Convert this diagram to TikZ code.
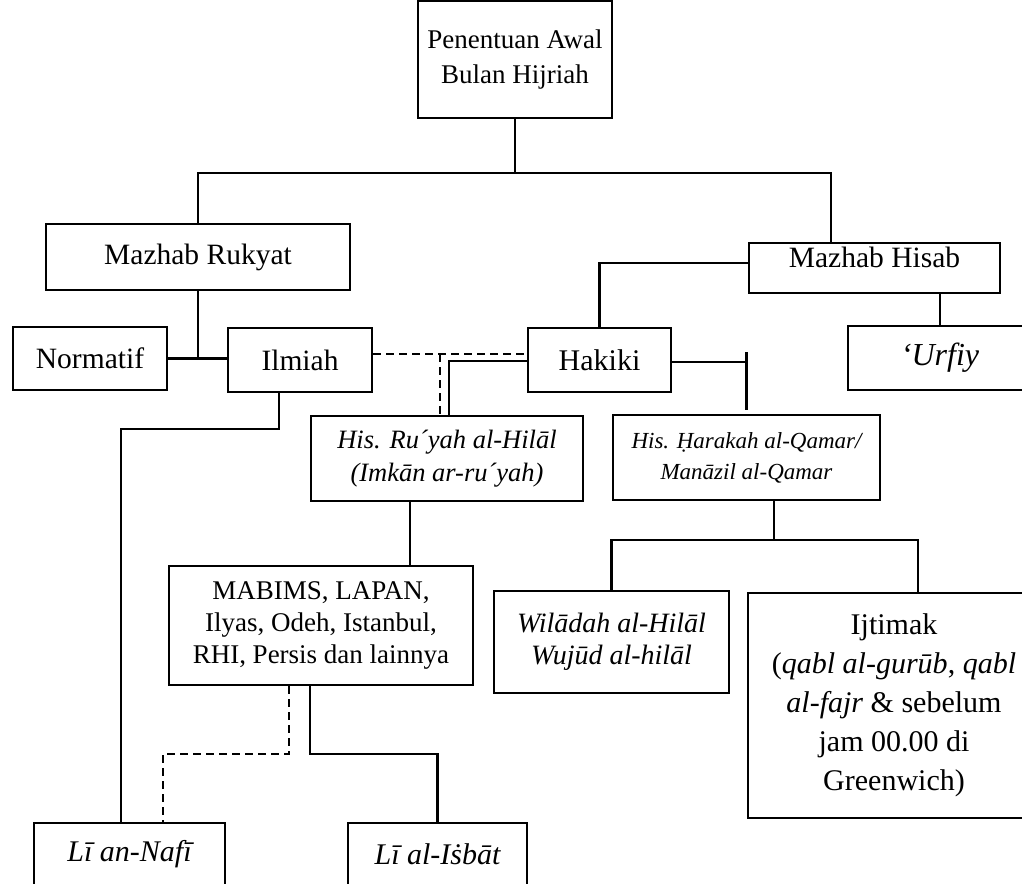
\documentclass[tikz,border=0pt]{standalone}
\usepackage{fontspec}
\setmainfont{Liberation Serif}
\begin{document}
\begin{tikzpicture}[x=1pt,y=-1pt,
  box/.style={draw,line width=2.2pt,rectangle,inner sep=0pt,align=center,
    font=\fontsize{29.5}{34}\selectfont},
  link/.style={line width=2.2pt,line cap=rect},
  dlink/.style={line width=2.2pt,dash pattern=on 8pt off 5pt}]
\useasboundingbox (0,0) rectangle (1022,883);

% boxes
\node[box,minimum width=194,minimum height=117,font=\fontsize{27}{35}\selectfont] (root) at (515,59.5) {Penentuan Awal\\Bulan Hijriah};
\node[box,minimum width=304,minimum height=66] (rukyat) at (198,257) {Mazhab Rukyat};
\node[box,minimum width=251,text height=24,text depth=26] (hisab) at (874.5,268) {Mazhab Hisab};
\node[box,minimum width=154,minimum height=63] (normatif) at (90,358.5) {Normatif};
\node[box,minimum width=144,minimum height=64] (ilmiah) at (300,360) {Ilmiah};
\node[box,minimum width=143,minimum height=64,font=\fontsize{30}{34}\selectfont] (hakiki) at (599.5,360) {Hakiki};
\node[box,minimum width=184,minimum height=64,font=\fontsize{32}{36}\selectfont\itshape] (urfiy) at (940,358) {‘Urfiy};
\node[box,minimum width=272,minimum height=85,font=\fontsize{26.5}{33}\selectfont\itshape] (ruyah) at (447,458.5) {His. Ru´yah al-Hilāl\\(Imkān ar-ru´yah)};
\node[box,minimum width=267,minimum height=85,font=\fontsize{23}{31}\selectfont\itshape] (harakah) at (746.5,457.5) {His. Ḥarakah al-Qamar/\\Manāzil al-Qamar};
\node[box,minimum width=304,minimum height=119,font=\fontsize{27}{32}\selectfont] (mabims) at (321,625.5) {MABIMS, LAPAN,\\Ilyas, Odeh, Istanbul,\\RHI, Persis dan lainnya};
\node[box,minimum width=235,minimum height=102,font=\fontsize{28}{32}\selectfont\itshape] (wiladah) at (611.5,642) {Wilādah al-Hilāl\\Wujūd al-hilāl};
\node[box,minimum width=292,minimum height=225,font=\fontsize{30}{39}\selectfont] (ijtimak) at (894,705.5) {Ijtimak\\(\textit{qabl al-gurūb}, \textit{qabl}\\\textit{al-fajr} \& sebelum\\jam 00.00 di\\Greenwich)};
\node[box,minimum width=191,minimum height=62,font=\fontsize{30}{34}\selectfont\itshape] (nafi) at (129.5,854) {Lī an-Nafī};
\node[box,minimum width=179,minimum height=62,font=\fontsize{30}{34}\selectfont\itshape] (isbat) at (437.5,854) {Lī al-Iṡbāt};

% top split into the two schools
\draw[link] (root.south) -- (root.south |- 0,173);
\draw[link] (rukyat.north) -- (rukyat.north |- 0,173) -- ([xshift=-43.5]hisab.north |- 0,173) -- ([xshift=-43.5]hisab.north);

% rukyat branches
\draw[link] (rukyat.south) -- (rukyat.south |- normatif.east);
\draw[link] (normatif.east) -- (normatif.east -| ilmiah.west);

% hisab branches
\draw[link] ([yshift=5]hisab.west) -| (hakiki.north);
\draw[link] (hisab.south -| urfiy.north) -- (urfiy.north);

% dashed link between ilmiah and hakiki, dropping to ru'yah
\coordinate (dj) at (440,354);
\draw[dlink] ([yshift=6]ilmiah.east) -- ([yshift=6]hakiki.west);
\draw[dlink] (dj) -- (dj |- ruyah.north);

% hakiki to its two methods
\draw[link] ([yshift=-1]hakiki.west) -| ([xshift=139]ruyah.north west);
\draw[link] ([yshift=-2]hakiki.east) -- ([yshift=-2]hakiki.east -| harakah.north);
\draw[link] (harakah.north |- 0,353) -- (harakah.north |- 0,409);

% ru'yah criteria
\draw[link] ([xshift=89]mabims.north |- ruyah.south) -- ([xshift=89]mabims.north);

% harakah criteria
\coordinate (hb) at ([xshift=27.5]harakah.south);
\draw[link] (hb) -- (hb |- 0,540);
\draw[link] (wiladah.north) -- (wiladah.north |- 0,540) -- ([xshift=24]ijtimak.north |- 0,540) -- ([xshift=24]ijtimak.north);

% results
\draw[dlink] ([xshift=121]mabims.south west) -- ++(0,68) -| ([xshift=130]nafi.north west);
\draw[link] ([xshift=142]mabims.south west) -- ++(0,68) -| (isbat.north);
\draw[link] ([xshift=52]ilmiah.south west) -- ++(0,36) -| ([xshift=88]nafi.north west);
\end{tikzpicture}
\end{document}
